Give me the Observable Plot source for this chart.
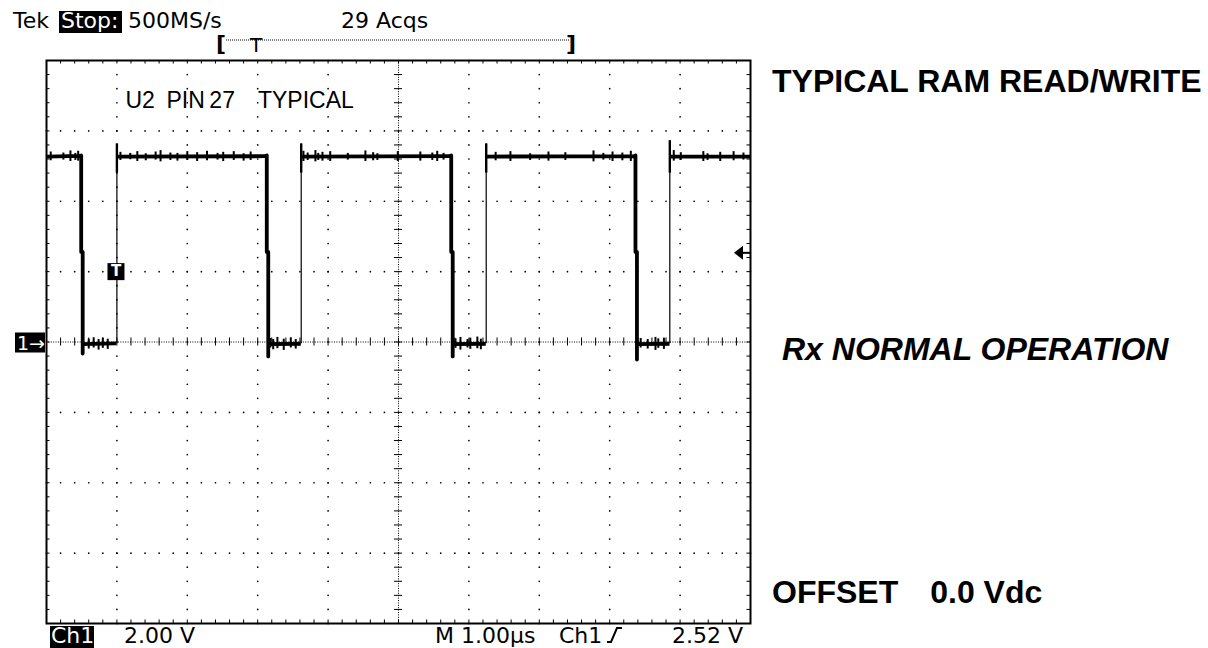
<!DOCTYPE html>
<html><head><meta charset="utf-8">
<script src="https://cdn.jsdelivr.net/npm/d3@7"></script>
<script src="https://cdn.jsdelivr.net/npm/@observablehq/plot@0.6"></script>
<style>
html,body{margin:0;padding:0;background:#fff;}
#wrap{width:1208px;height:648px;overflow:hidden;}
</style></head><body><div id="wrap"></div>
<script>
// ---------- texts ----------
const headerTexts = ["Tek", "Stop:", "500MS/s", "29 Acqs"];
const footerTexts = ["Ch1", "2.00 V", "M 1.00\u00b5s", "Ch1", "2.52 V"];
const sideTexts = ["TYPICAL RAM READ/WRITE", "Rx NORMAL OPERATION", "OFFSET\u20030.0 Vdc"];
const traceLabel = "U2\u2002PIN\u200927\u2003TYPICAL";

// ---------- scope settings ----------
const timeDomain = [-1, 9];     // µs, 1 µs/div, trigger at 0
const voltDomain = [-8, 8];     // V, 2 V/div, ground at centre
const triggerLevel = 2.52;      // V
const triggerMarker = [{t: -0.013, v: 2.0}];

// ---------- waveform (thick trace, NaN = break at thin rising edges) ----------
const traceT = [-1.0, -0.53, -0.507, -0.507, -0.486, -0.486, -0.486, -0.01, NaN,
  0.0, 2.10, 2.129, 2.129, 2.150, 2.150, 2.150, 2.61, NaN,
  2.618, 4.72, 4.749, 4.749, 4.770, 4.770, 4.770, 5.24, NaN,
  5.246, 7.34, 7.366, 7.366, 7.387, 7.387, 7.387, 7.85, NaN,
  7.854, 9.0];
const traceV = [5.27, 5.29, 5.30, 2.56, 2.56, -0.33, -0.06, -0.04, NaN,
  5.27, 5.28, 5.30, 2.56, 2.56, -0.41, -0.06, -0.05, NaN,
  5.27, 5.28, 5.30, 2.56, 2.56, -0.41, -0.06, -0.05, NaN,
  5.27, 5.28, 5.30, 2.56, 2.56, -0.50, -0.06, -0.05, NaN,
  5.27, 5.27];

// rising edges (thin)
const riseT = [0.0, 2.618, 5.246, 7.854];
const riseTop = [5.63, 5.63, 5.63, 5.72];
const riseLow = [-0.05, -0.05, -0.05, -0.05];

// noise spikes on the high level
const hiSpikeT = [-0.94, -0.76, -0.66, -0.59, -0.55, 0.05, 0.19, 0.29, 0.41, 0.55, 0.62, 0.76, 0.86, 1.00, 1.14, 1.28, 1.43, 1.51, 1.66, 1.80, 1.90,
  2.65, 2.71, 2.82, 2.86, 2.92, 3.03, 3.28, 3.53, 3.64, 3.70, 3.99, 4.31, 4.48, 4.55, 4.64,
  5.38, 5.59, 5.87, 6.13, 6.37, 6.77, 6.91, 7.04, 7.18, 7.30,
  7.91, 8.01, 8.33, 8.39, 8.57, 8.76, 8.90];
const hiSpikeTop = [5.40, 5.37, 5.43, 5.36, 5.42, 5.39, 5.36, 5.41, 5.35, 5.40, 5.44, 5.37, 5.36, 5.41, 5.38, 5.42, 5.36, 5.39, 5.41, 5.35, 5.40,
  5.42, 5.37, 5.44, 5.36, 5.39, 5.41, 5.36, 5.43, 5.38, 5.35, 5.41, 5.40, 5.37, 5.42, 5.36,
  5.39, 5.41, 5.35, 5.40, 5.38, 5.43, 5.36, 5.40, 5.37, 5.42,
  5.44, 5.38, 5.41, 5.35, 5.39, 5.41, 5.37];
const hiSpikeBot = [5.15, 5.17, 5.13, 5.16, 5.14, 5.16, 5.18, 5.13, 5.15, 5.17, 5.12, 5.16, 5.14, 5.16, 5.13, 5.15, 5.17, 5.13, 5.16, 5.14, 5.16,
  5.13, 5.16, 5.12, 5.16, 5.14, 5.13, 5.17, 5.13, 5.15, 5.16, 5.13, 5.14, 5.16, 5.13, 5.17,
  5.15, 5.13, 5.16, 5.14, 5.16, 5.12, 5.17, 5.13, 5.15, 5.13,
  5.14, 5.16, 5.13, 5.16, 5.13, 5.15, 5.17];

// noise spikes on the low level
const loSpikeT = [-0.40, -0.33, -0.26, -0.20, -0.13, 2.18, 2.22, 2.28, 2.37, 2.47, 2.54,
  4.81, 4.88, 4.98, 5.02, 5.12, 5.17, 7.44, 7.54, 7.65, 7.69, 7.77];
const loSpikeTop = [0.08, 0.12, 0.07, 0.11, 0.08, 0.10, 0.07, 0.13, 0.08, 0.12, 0.07,
  0.09, 0.13, 0.07, 0.11, 0.14, 0.08, 0.10, 0.07, 0.13, 0.09, 0.11];
const loSpikeBot = [-0.20, -0.17, -0.23, -0.18, -0.21, -0.17, -0.22, -0.19, -0.24, -0.17, -0.20,
  -0.18, -0.23, -0.17, -0.21, -0.19, -0.22, -0.17, -0.20, -0.24, -0.18, -0.21];

// ---------- graticule structure ----------
const majorX = d3.range(timeDomain[0] + 1, timeDomain[1]);          // vertical division lines
const majorY = d3.range(voltDomain[0] + 2, voltDomain[1], 2);       // horizontal division lines
const minorX = d3.range(timeDomain[0], timeDomain[1] + 1e-6, 0.2);  // 5 per division
const minorY = d3.range(voltDomain[0], voltDomain[1] + 1e-6, 0.4);
const centerX = (timeDomain[0] + timeDomain[1]) / 2;
const centerY = 0;

const gridDots = [];
for (const mx of majorX) if (mx !== centerX) for (const my of minorY) gridDots.push({t: mx, v: my});
for (const my of majorY) if (my !== centerY) for (const mt of minorX) gridDots.push({t: mt, v: my});

const trace = traceT.map((t, i) => ({t, v: traceV[i]}));
const rises = riseT.map((t, i) => ({t, lo: riseLow[i], hi: riseTop[i]}));
const hiSpikes = hiSpikeT.map((t, i) => ({t, a: hiSpikeBot[i], b: hiSpikeTop[i]}));
const loSpikes = loSpikeT.map((t, i) => ({t, a: loSpikeBot[i], b: loSpikeTop[i]}));

const tickDX = 0.057, tickDY = 0.114; // ±4 px cross ticks on centre lines
const edgeDX = 0.05, edgeDY = 0.1;    // ~3.5 px ticks on frame edges

const plot = Plot.plot({
  width: 1208, height: 648,
  marginLeft: 46, marginRight: 458, marginTop: 60, marginBottom: 25,
  x: {domain: timeDomain, axis: null},
  y: {domain: voltDomain, axis: null},
  style: {background: "#fff", overflow: "visible"},
  marks: [
    // graticule
    Plot.dot(gridDots, {x: "t", y: "v", r: 0.85, fill: "#000", stroke: null}),
    Plot.ruleX([centerX], {stroke: "#000", strokeWidth: 1, strokeDasharray: "1,1.4"}),
    Plot.ruleY([centerY], {stroke: "#000", strokeWidth: 1, strokeDasharray: "1,1.4"}),
    Plot.ruleY(minorY, {y: d => d, x1: centerX - tickDX, x2: centerX + tickDX, stroke: "#000", strokeWidth: 1}),
    Plot.ruleX(minorX, {x: d => d, y1: centerY - tickDY, y2: centerY + tickDY, stroke: "#000", strokeWidth: 1}),
    Plot.ruleY(minorY, {y: d => d, x1: timeDomain[0], x2: timeDomain[0] + edgeDX, stroke: "#000", strokeWidth: 1}),
    Plot.ruleY(minorY, {y: d => d, x1: timeDomain[1] - edgeDX, x2: timeDomain[1], stroke: "#000", strokeWidth: 1}),
    Plot.ruleX(minorX, {x: d => d, y1: voltDomain[1], y2: voltDomain[1] - edgeDY, stroke: "#000", strokeWidth: 1}),
    Plot.ruleX(minorX, {x: d => d, y1: voltDomain[0], y2: voltDomain[0] + edgeDY, stroke: "#000", strokeWidth: 1}),
    Plot.frame({stroke: "#000", strokeWidth: 2}),
    // waveform
    Plot.ruleX(hiSpikes, {x: "t", y1: "a", y2: "b", stroke: "#000", strokeWidth: 2}),
    Plot.ruleX(loSpikes, {x: "t", y1: "a", y2: "b", stroke: "#000", strokeWidth: 2}),
    Plot.line(trace, {x: "t", y: "v", stroke: "#000", strokeWidth: 3.8, strokeLinejoin: "round", strokeLinecap: "butt"}),
    Plot.ruleX(rises, {x: "t", y1: "lo", y2: "hi", stroke: "#000", strokeWidth: 1.2}),
    Plot.ruleX(rises, {x: "t", y1: 4.8, y2: "hi", stroke: "#000", strokeWidth: 2.4}),
    // trigger marker
    Plot.dot(triggerMarker, {x: "t", y: "v", symbol: "square", r: 9.6, fill: "#000", stroke: null}),
    Plot.text(triggerMarker, {x: "t", y: "v", text: () => "T", fill: "#fff", fontSize: 15, fontWeight: "bold",
      fontFamily: "DejaVu Sans", lineAnchor: "middle"}),
    // label inside
    Plot.text([traceLabel], {frameAnchor: "top-left", dx: 79, dy: 47, text: d => d, textAnchor: "start",
      lineAnchor: "bottom", fontSize: 23, fontFamily: "Liberation Sans, Arial, sans-serif", fill: "#000"})
  ]
});

document.getElementById("wrap").appendChild(plot);

// ---------- annotations outside the graticule ----------
const svg = d3.select(plot);
const sx = plot.scale("x"), sy = plot.scale("y");
const g = svg.append("g").attr("font-family", "DejaVu Sans").attr("font-size", 22)
  .attr("fill", "#000").attr("text-anchor", "start");

// header
g.append("text").attr("x", 13).attr("y", 28).text(headerTexts[0]);
g.append("rect").attr("x", 59).attr("y", 11).attr("width", 63).attr("height", 22).attr("fill", "#000");
g.append("text").attr("x", 61).attr("y", 28).attr("fill", "#fff").text(headerTexts[1]);
g.append("text").attr("x", 128).attr("y", 28).text(headerTexts[2]);
g.append("text").attr("x", 341).attr("y", 28).text(headerTexts[3]);

// record bracket
g.append("line").attr("x1", 226).attr("x2", 569).attr("y1", 40).attr("y2", 40)
  .attr("stroke", "#000").attr("stroke-width", 1).attr("stroke-dasharray", "1,1");
g.append("text").attr("x", 216).attr("y", 51).attr("font-size", 22).attr("font-weight", "bold").text("[");
g.append("text").attr("x", 256).attr("y", 52).attr("font-size", 20).attr("text-anchor", "middle").text("T");
g.append("text").attr("x", 566).attr("y", 51).attr("font-size", 22).attr("font-weight", "bold").text("]");

// footer
const fy = 643;
g.append("rect").attr("x", 50).attr("y", 626).attr("width", 44).attr("height", 22).attr("fill", "#000");
g.append("text").attr("x", 51).attr("y", fy).attr("fill", "#fff").text(footerTexts[0]);
g.append("text").attr("x", 124).attr("y", fy).text(footerTexts[1]);
g.append("text").attr("x", 435).attr("y", fy).text(footerTexts[2]);
g.append("text").attr("x", 559).attr("y", fy).text(footerTexts[3]);
g.append("path").attr("d", `M607,${fy - 1} L611,${fy - 1} L617,${fy - 15} L622,${fy - 15}`).attr("fill", "none")
  .attr("stroke", "#000").attr("stroke-width", 2);
g.append("text").attr("x", 743).attr("y", fy).attr("text-anchor", "end").text(footerTexts[4]);

// ground marker "1→"
const y0 = sy.apply(0);
g.append("rect").attr("x", 15).attr("y", y0 - 9).attr("width", 30).attr("height", 20).attr("fill", "#000");
g.append("text").attr("x", 17).attr("y", y0 + 8).attr("fill", "#fff").attr("font-size", 19).text("1\u2192");

// trigger level arrow
const yt = sy.apply(triggerLevel);
const xr = sx.apply(timeDomain[1]);
g.append("path").attr("d", `M${xr - 16},${yt} L${xr - 7},${yt - 7} L${xr - 7},${yt + 7} Z`).attr("fill", "#000");
g.append("line").attr("x1", xr - 8).attr("x2", xr).attr("y1", yt).attr("y2", yt).attr("stroke", "#000").attr("stroke-width", 2);

// side titles
const gb = svg.append("g").attr("font-family", "Liberation Sans, Arial, sans-serif").attr("font-weight", "bold")
  .attr("font-size", 32).attr("fill", "#000").attr("text-anchor", "start");
gb.append("text").attr("x", 772).attr("y", 92).text(sideTexts[0]);
gb.append("text").attr("x", 782).attr("y", 360).attr("font-style", "italic").text(sideTexts[1]);
gb.append("text").attr("x", 772).attr("y", 603).text(sideTexts[2]);
</script>
</body></html>
